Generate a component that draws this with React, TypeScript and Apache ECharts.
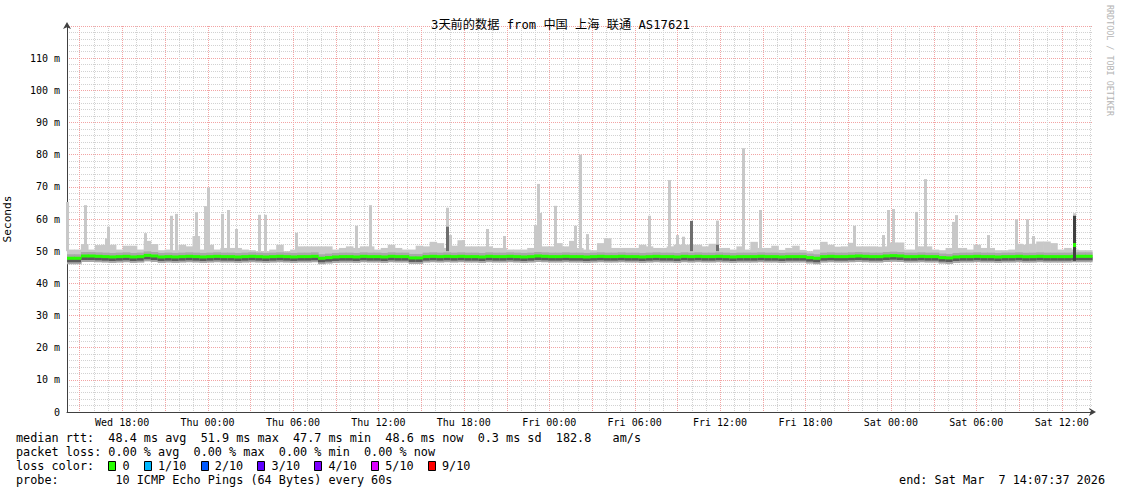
import React, { useEffect, useRef } from "react";
import * as echarts from "echarts";

// ---- time range (hours since Wed 00:00) ----
const START_HOUR = 14 + 7 / 60 + 37 / 3600; // Wed Mar 4 14:07:37
const END_HOUR = START_HOUR + 72; // Sat Mar 7 14:07:37
const Y_MAX = 120;

const xTickHours = [18, 24, 30, 36, 42, 48, 54, 60, 66, 72, 78, 84];
const dayNames = ["Wed", "Thu", "Fri", "Sat"];

// ---- smoke: upper edge of the common smoke (ms), evenly spread over the range ----
const bandTop = [
  50.5, 50.5, 52.2, 50.5, 51.9, 52.0, 52.0,
  50.5, 51.7, 51.7, 50.5, 53.2, 52.2, 50.3,
  50.5, 50.3, 52.0, 51.5, 54.7, 50.5, 52.0,
  50.5, 51.0, 51.0, 51.0, 50.5, 50.3, 50.0,
  50.0, 50.5, 52.0, 50.0, 50.5, 51.5, 51.5,
  51.5, 51.5, 51.5, 50.5, 51.0, 51.5, 51.0,
  51.5, 51.5, 50.5, 51.0, 52.0, 51.0, 50.5,
  50.5, 51.7, 51.5, 52.9, 52.5, 51.0, 51.7,
  53.4, 51.5, 51.5, 51.5, 51.5, 51.0, 51.0,
  50.5, 50.5, 50.5, 51.0, 51.0, 51.5, 51.5,
  52.5, 51.5, 53.2, 51.0, 50.5, 50.3, 52.5,
  54.0, 51.0, 51.0, 51.0, 51.0, 52.0, 51.5,
  51.0, 51.0, 51.5, 52.0, 52.0, 52.0, 52.0,
  51.5, 52.3, 51.0, 51.0, 50.5, 51.5, 50.5,
  52.9, 51.0, 51.0, 51.7, 50.4, 51.0, 51.7,
  50.4, 50.0, 50.5, 52.9, 52.0, 51.4, 51.5,
  52.6, 51.5, 51.5, 51.5, 51.4, 51.5, 52.7,
  52.7, 50.5, 50.5, 51.5, 51.5, 50.5, 50.3,
  51.0, 51.0, 51.0, 50.5, 52.0, 51.0, 51.0,
  50.3, 50.3, 50.5, 52.3, 52.0, 52.3, 53.0,
  53.0, 52.5, 50.5, 51.0, 50.5, 50.3, 50.3,
];

// ---- median rtt (ms), same columns as bandTop ----
const medianRtt = [
  47.8, 47.8, 48.5, 48.5, 48.4, 48.3, 48.2,
  48.3, 48.4, 48.2, 48.3, 48.7, 48.5, 48.2,
  48.3, 48.2, 48.3, 48.4, 48.3, 48.2, 48.3,
  48.4, 48.3, 48.3, 48.2, 48.3, 48.4, 48.3,
  48.2, 48.3, 48.4, 48.3, 48.2, 48.3, 48.3,
  48.4, 47.8, 48.0, 48.2, 48.3, 48.3, 48.2,
  48.4, 48.3, 48.3, 48.2, 48.4, 48.3, 48.3,
  47.9, 47.9, 48.3, 48.4, 48.3, 48.4, 48.3,
  48.4, 48.3, 48.3, 48.2, 48.4, 48.3, 48.3,
  48.4, 48.3, 48.2, 48.3, 48.5, 48.4, 48.3,
  48.3, 48.4, 48.3, 48.3, 48.2, 48.3, 48.4,
  48.3, 48.3, 48.4, 48.3, 48.3, 48.2, 48.3,
  48.4, 48.3, 48.3, 48.2, 48.4, 48.3, 48.4,
  48.3, 48.3, 48.4, 48.3, 48.2, 48.3, 48.3,
  48.3, 48.4, 48.3, 48.3, 48.2, 48.3, 48.3,
  48.3, 48.0, 47.8, 48.3, 48.4, 48.3, 48.3,
  48.4, 48.5, 48.4, 48.3, 48.3, 48.5, 48.6,
  48.5, 48.3, 48.3, 48.4, 48.3, 48.3, 48.0,
  47.9, 48.2, 48.3, 48.3, 48.4, 48.3, 48.3,
  48.2, 48.3, 48.3, 48.4, 48.3, 48.3, 48.4,
  48.3, 48.3, 48.3, 48.3, 48.4, 48.4, 48.4,
];

// ---- min rtt (ms), 2-hour columns ----
const minRtt = [
  47.0, 46.8, 46.9, 46.8, 46.7, 46.9, 46.8, 46.6, 46.8, 46.5, 46.7, 46.9,
  46.8, 46.7, 46.9, 46.8, 46.7, 46.8, 46.6, 46.8, 46.9, 46.8, 46.7, 46.6,
  46.8, 46.9, 46.6, 46.8, 46.7, 46.9, 46.7, 46.8, 46.9, 46.6, 46.8, 46.9,
];

// ---- isolated spikes: time (hour since Wed 00:00), max rtt, top of darker smoke (0 = none), median there (0 = none) ----
const spikeHour = [
  14.18, 15.46, 16.87, 17.04, 19.64, 21.47, 21.85, 23.22, 23.84, 24.07,
  25.02, 25.47, 26.03, 27.65, 28.07, 30.25, 34.43, 35.45, 40.83, 41.07,
  41.98, 43.67, 44.86, 47.04, 47.25, 47.42, 48.44, 49.85, 50.23, 50.69,
  55.01, 56.45, 56.98, 57.43, 57.96, 59.82, 61.65, 62.84, 69.41, 71.45,
  71.83, 72.19, 73.8, 74.43, 76.4, 76.61, 78.86, 80.82, 81.6, 82.05,
  84.93,
];
const spikeMax = [
  65.3, 64.3, 54.0, 57.6, 55.6, 61.0, 61.6, 62.1, 64.0, 69.8,
  61.6, 62.8, 56.9, 61.3, 61.3, 55.7, 57.9, 64.3, 63.5, 55.0,
  53.4, 56.9, 54.7, 58.1, 70.9, 61.9, 64.1, 57.9, 80.0, 55.3,
  61.0, 72.1, 55.0, 54.5, 59.4, 59.5, 82.0, 62.8, 57.9, 55.0,
  62.8, 63.1, 62.2, 72.4, 59.1, 61.2, 55.0, 59.9, 59.9, 54.7,
  61.8,
];
const spikeDarkTop = [
  0, 0, 0, 0, 0, 0, 0, 0, 0, 0,
  0, 0, 0, 0, 0, 0, 0, 0, 57.6, 0,
  0, 0, 0, 0, 0, 0, 0, 0, 0, 0,
  0, 0, 0, 0, 59.4, 52.0, 0, 0, 0, 0,
  0, 0, 0, 0, 0, 0, 0, 0, 0, 0,
  61.0,
];
const spikeMedian = [
  0, 0, 0, 0, 0, 0, 0, 0, 0, 0,
  0, 0, 0, 0, 0, 0, 0, 0, 0, 0,
  0, 0, 0, 0, 0, 0, 0, 0, 0, 0,
  0, 0, 0, 0, 0, 0, 0, 0, 0, 0,
  0, 0, 0, 0, 0, 0, 0, 0, 0, 0,
  51.9,
];

// ---- legend texts ----
const legendLines = [
  "median rtt:  48.4 ms avg  51.9 ms max  47.7 ms min  48.6 ms now  0.3 ms sd  182.8   am/s",
  "packet loss: 0.00 % avg  0.00 % max  0.00 % min  0.00 % now",
];
const lossLabels = ["0", "1/10", "2/10", "3/10", "4/10", "5/10", "9/10"];
const lossColors = ["#26ff00", "#00b8ff", "#0059ff", "#5e00ff", "#7e00ff", "#dd00ff", "#ff0000"];
const probeText = "probe:        10 ICMP Echo Pings (64 Bytes) every 60s";
const endText = "end: Sat Mar  7 14:07:37 2026";
const titleText = "3天前的数据 from 中国 上海 联通 AS17621";

const MONO = '"DejaVu Sans Mono", monospace';
const TITLE_FONT = '"DejaVu Sans Mono", "Noto Sans CJK SC", sans-serif';
const CHAR_W = 7.1;
const LEGEND_X = 16;
const LEGEND_FONT = `11.8px ${MONO}`;
const GREEN = "#26ff00";

export default function App() {
  const ref = useRef<HTMLDivElement>(null);

  useEffect(() => {
    if (!ref.current) return;
    const chart = echarts.init(ref.current, null, { renderer: "svg", width: 1121, height: 494 });

    const bandStep = (END_HOUR - START_HOUR) / bandTop.length;
    const minStep = (END_HOUR - START_HOUR) / minRtt.length;
    const bandData = bandTop.map((top, i) => {
      const t0 = START_HOUR + i * bandStep;
      const mi = minRtt[Math.min(minRtt.length - 1, Math.floor((i * bandStep) / minStep))];
      return [t0, t0 + bandStep, mi, top, medianRtt[i]];
    });
    const spikeData = spikeHour.map((h, i) => [h, spikeMax[i], spikeDarkTop[i], spikeMedian[i]]);

    const gridData: number[][] = [];
    for (let h = Math.ceil(START_HOUR); h <= END_HOUR; h++) gridData.push([h, h % 3 === 0 ? 1 : 0]);

    // legend graphics
    const graphics: any[] = [];
    legendLines.forEach((t, k) => {
      graphics.push({
        type: "text", x: LEGEND_X, y: 438 + k * 14,
        style: { text: t, font: LEGEND_FONT, fill: "#000", verticalAlign: "middle", align: "left" },
      });
    });
    graphics.push({
      type: "text", x: LEGEND_X, y: 466,
      style: { text: "loss color:", font: LEGEND_FONT, fill: "#000", verticalAlign: "middle", align: "left" },
    });
    let col = 13;
    lossLabels.forEach((lab, k) => {
      const sx = Math.round(LEGEND_X + col * CHAR_W) + 0.5;
      graphics.push({
        type: "rect", shape: { x: sx, y: 461.5, width: 7, height: 9 },
        style: { fill: lossColors[k], stroke: "#000", lineWidth: 1 },
      });
      graphics.push({
        type: "text", x: LEGEND_X + (col + 2) * CHAR_W, y: 466,
        style: { text: lab, font: LEGEND_FONT, fill: "#000", verticalAlign: "middle", align: "left" },
      });
      col += 2 + lab.length + 2;
    });
    graphics.push({
      type: "text", x: LEGEND_X, y: 480,
      style: { text: probeText, font: LEGEND_FONT, fill: "#000", verticalAlign: "middle", align: "left" },
    });
    graphics.push({
      type: "text", x: 1105, y: 480,
      style: { text: endText, font: LEGEND_FONT, fill: "#000", verticalAlign: "middle", align: "right" },
    });
    graphics.push({
      type: "text", x: 1110, y: 5, rotation: -Math.PI / 2,
      style: { text: "RRDTOOL / TOBI OETIKER", font: `8.4px ${MONO}`, fill: "#b4b4b4", verticalAlign: "middle", align: "left" },
    });

    const option: any = {
      animation: false,
      backgroundColor: "#ffffff",
      title: {
        text: titleText, left: "center", top: 14,
        textStyle: { fontFamily: TITLE_FONT, fontSize: 12.2, fontWeight: "normal", color: "#000" },
      },
      grid: { left: 67, right: 29, top: 26, bottom: 82, containLabel: false, outerBoundsMode: "none" },
      xAxis: {
        type: "value", min: START_HOUR, max: END_HOUR,
        axisLine: { show: true, lineStyle: { color: "#404040", width: 1 }, symbol: ["none", "arrow"], symbolSize: [6, 7], symbolOffset: [0, 4] },
        axisTick: { show: false },
        splitLine: { show: false },
        axisLabel: {
          customValues: xTickHours,
          margin: 5,
          fontFamily: MONO, fontSize: 10, color: "#000",
          formatter: (v: number) => {
            const h = Math.round(v);
            const hh = h % 24;
            return `${dayNames[Math.floor(h / 24)]} ${hh < 10 ? "0" + hh : hh}:00`;
          },
        },
      },
      yAxis: {
        type: "value", min: 0, max: Y_MAX, interval: 10,
        name: "Seconds", nameLocation: "middle", nameGap: 54,
        nameTextStyle: { fontFamily: MONO, fontSize: 11.2, color: "#000" },
        axisLine: { show: true, lineStyle: { color: "#404040", width: 1 }, symbol: ["none", "arrow"], symbolSize: [6, 7], symbolOffset: [0, 4] },
        axisTick: { show: false },
        axisLabel: {
          showMaxLabel: false, margin: 7,
          fontFamily: MONO, fontSize: 10, color: "#000",
          formatter: (v: number) => (v === 0 ? "0" : `${v} m`),
        },
        splitLine: { show: true, lineStyle: { color: "#f2a4a4", width: 1, type: [1, 1] } },
        minorTick: { show: false, splitNumber: 5 },
        minorSplitLine: { show: true, lineStyle: { color: "#d2d2d2", width: 1, type: [1, 1] } },
      },
      graphic: graphics,
      series: [
        {
          type: "custom", name: "vgrid", z: 1, silent: true, data: gridData,
          renderItem: (_p: any, api: any) => {
            const h = api.value(0);
            const top = api.coord([h, Y_MAX]);
            const bot = api.coord([h, 0]);
            const x = Math.round(top[0]) + 0.5;
            return {
              type: "line",
              shape: { x1: x, y1: top[1], x2: x, y2: bot[1] },
              style: { stroke: api.value(1) ? "#f2a4a4" : "#d2d2d2", lineWidth: 1, lineDash: [1, 1] },
            };
          },
        },
        {
          type: "custom", name: "smoke", z: 2, silent: true, data: bandData,
          renderItem: (_p: any, api: any) => {
            const a = api.coord([api.value(0), api.value(3)]);
            const b = api.coord([api.value(1), api.value(2)]);
            return {
              type: "rect",
              shape: { x: a[0], y: a[1], width: b[0] - a[0] + 0.6, height: b[1] - a[1] },
              style: { fill: "#c8c8c8" },
            };
          },
        },
        {
          type: "custom", name: "core", z: 3, silent: true, data: bandData,
          renderItem: (_p: any, api: any) => {
            const a = api.coord([api.value(0), api.value(4)]);
            const b = api.coord([api.value(1), api.value(4)]);
            const w = b[0] - a[0] + 0.6;
            return {
              type: "group",
              children: [
                { type: "rect", shape: { x: a[0], y: a[1] - 4, width: w, height: 10 }, style: { fill: "#a8a8a8" } },
                { type: "rect", shape: { x: a[0], y: a[1] + 1, width: w, height: 3 }, style: { fill: "#5a5a5a" } },
              ],
            };
          },
        },
        {
          type: "custom", name: "median", z: 4, silent: true, data: bandData,
          renderItem: (_p: any, api: any) => {
            const a = api.coord([api.value(0), api.value(4)]);
            const b = api.coord([api.value(1), api.value(4)]);
            return {
              type: "rect",
              shape: { x: a[0], y: a[1] - 1.5, width: b[0] - a[0] + 0.6, height: 3 },
              style: { fill: GREEN },
            };
          },
        },
        {
          type: "custom", name: "spikes", z: 5, silent: true, data: spikeData,
          renderItem: (_p: any, api: any) => {
            const h = api.value(0);
            const top = api.coord([h, api.value(1)]);
            const base = api.coord([h, 50]);
            const x = Math.round(top[0] - 1.5);
            const children: any[] = [];
            if (base[1] > top[1]) {
              children.push({ type: "rect", shape: { x, y: top[1], width: 3, height: base[1] - top[1] }, style: { fill: "#c8c8c8" } });
            }
            const dt = api.value(2);
            const md = api.value(3);
            if (dt > 0) {
              const d = api.coord([h, dt]);
              const low = api.coord([h, md > 0 ? 47 : 50]);
              children.push({ type: "rect", shape: { x, y: d[1], width: 3, height: low[1] - d[1] }, style: { fill: md > 0 ? "#404040" : "#6e6e6e" } });
            }
            if (md > 0) {
              const m = api.coord([h, md]);
              children.push({ type: "rect", shape: { x, y: m[1] - 2, width: 3, height: 4 }, style: { fill: GREEN } });
            }
            return { type: "group", children };
          },
        },
      ],
    };

    chart.setOption(option);
    return () => chart.dispose();
  }, []);

  return (
    <div
      ref={ref}
      style={{ position: "fixed", left: 0, top: 0, width: 1121, height: 494, background: "#fff" }}
    />
  );
}
